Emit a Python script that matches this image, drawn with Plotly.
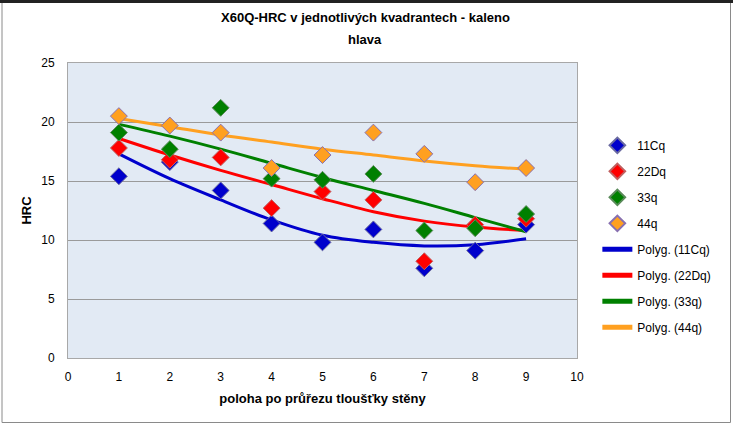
import plotly.graph_objects as go

# wall position (x) and measured HRC per quadrant
poloha = [1, 2, 3, 4, 5, 6, 7, 8, 9]
hrc_11cq = [15.4, 16.6, 14.2, 11.4, 9.8, 10.9, 7.6, 9.1, 11.3]
hrc_22dq = [17.8, 16.8, 17.0, 12.7, 14.1, 13.4, 8.2, 11.3, 11.8]
hrc_33q = [19.1, 17.7, 21.2, 15.2, 15.1, 15.6, 10.8, 11.0, 12.2]
hrc_44q = [20.5, 19.7, 19.1, 16.1, 17.2, 19.1, 17.3, 14.9, 16.1]

# polynomial trendlines
trend_11cq = [17.3, 15.2, 13.4, 11.7, 10.4, 9.8, 9.5, 9.6, 10.1]
trend_22dq = [18.6, 17.2, 15.9, 14.7, 13.5, 12.4, 11.6, 11.1, 10.8]
trend_33q = [19.8, 18.8, 17.7, 16.5, 15.3, 14.2, 13.1, 11.9, 10.7]
trend_44q = [20.3, 19.6, 18.9, 18.3, 17.7, 17.2, 16.7, 16.3, 16.0]

names = ["11Cq", "22Dq", "33q", "44q"]
colors = ["#0000CC", "#FF0000", "#008000", "#FFA020"]
outlines = ["#6a6aa0", "#c06060", "#5a8a5a", "#8870b0"]
points = [hrc_11cq, hrc_22dq, hrc_33q, hrc_44q]
trends = [trend_11cq, trend_22dq, trend_33q, trend_44q]

fig = go.Figure()

# trendlines (drawn below the points, listed after them in the legend)
for i, name in enumerate(names):
    fig.add_trace(go.Scatter(
        x=poloha, y=trends[i], mode="lines", name="Polyg. (" + name + ")",
        legendgroup="t" + name, legendrank=5 + i,
        line=dict(color=colors[i], width=3, shape="spline"),
    ))

# measured points
for i, name in enumerate(names):
    fig.add_trace(go.Scatter(
        x=poloha, y=points[i], mode="markers", name=name,
        legendgroup="p" + name, legendrank=1 + i,
        marker=dict(symbol="diamond", size=13, color=colors[i],
                    line=dict(width=1, color=outlines[i])),
    ))

W, H = 733, 426
ml, mr, mt, mb = 68, 156, 63, 68
pw = W - ml - mr
ph = H - mt - mb

fig.update_layout(
    width=W,
    height=H,
    paper_bgcolor="white",
    plot_bgcolor="#e2eaf4",
    margin=dict(l=ml, r=mr, t=mt, b=mb),
    font=dict(family="Liberation Sans, Arial, sans-serif", size=12, color="black"),
    xaxis=dict(
        range=[0, 10], dtick=1, showgrid=False, zeroline=False,
        showline=True, linecolor="#a8a8a8", mirror=True,
        ticks="", ticklabelstandoff=8,
        title=dict(text="<b>poloha po průřezu tloušťky stěny</b>",
                   font=dict(size=13), standoff=10),
    ),
    yaxis=dict(
        range=[0, 25], dtick=5, showgrid=True, gridcolor="#9a9a9a",
        zeroline=False, showline=True, linecolor="#a8a8a8", mirror=True,
        ticks="", ticklabelstandoff=10,
        title=dict(text="<b>HRC</b>", font=dict(size=13), standoff=6),
    ),
    legend=dict(
        x=1.04, xanchor="left", y=0.77, yanchor="top",
        bgcolor="rgba(0,0,0,0)", traceorder="grouped", tracegroupgap=7,
        itemsizing="constant", font=dict(size=12),
    ),
)

# two-line chart title, placed as annotations for the wider line gap
fig.add_annotation(text="<b>X60Q-HRC v jednotlivých kvadrantech - kaleno</b>",
                   xref="paper", yref="paper", x=(365 - ml) / pw, y=(H - mb - 18) / ph,
                   xanchor="center", yanchor="middle", showarrow=False,
                   font=dict(size=13))
fig.add_annotation(text="<b>hlava</b>",
                   xref="paper", yref="paper", x=(365 - ml) / pw, y=(H - mb - 40) / ph,
                   xanchor="center", yanchor="middle", showarrow=False,
                   font=dict(size=13))

# frame around the whole chart: grey sides, dark top edge
x0 = -ml / pw
x1 = (W - ml) / pw
y0 = -mb / ph
y1 = (H - mb) / ph
fig.add_shape(type="rect", xref="paper", yref="paper",
              x0=x0 + 2 / pw, x1=x1 - 2.5 / pw, y0=y0 + 3.5 / ph, y1=y1 - 2 / ph,
              line=dict(color="#8a8a8a", width=1))
fig.add_shape(type="line", xref="paper", yref="paper",
              x0=x0, x1=x1, y0=y1 - 1.5 / ph, y1=y1 - 1.5 / ph,
              line=dict(color="#222222", width=3))

# drop the default page margin so the chart fills the window
fig.write_html("out.html", config={"displayModeBar": False},
               post_script="document.body.style.margin='0px';")
